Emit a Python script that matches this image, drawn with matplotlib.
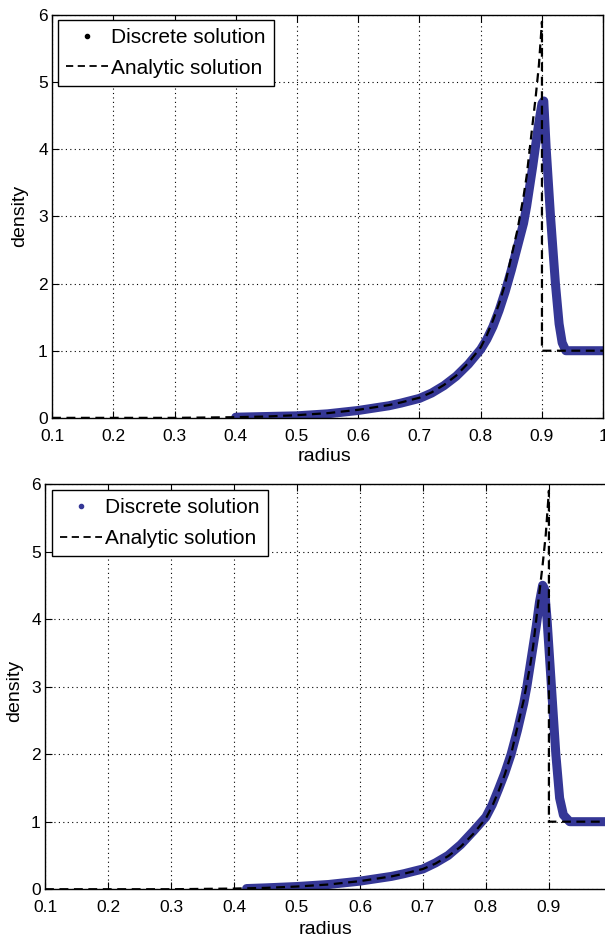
import numpy as np
import matplotlib.pyplot as plt
from matplotlib.lines import Line2D

# analytic solution (same for both runs)
r_exact = [0.1, 0.2, 0.3, 0.4, 0.45, 0.5, 0.55, 0.6, 0.65, 0.67, 0.7, 0.72, 0.74,
           0.76, 0.78, 0.8, 0.81, 0.82, 0.83, 0.84, 0.85, 0.86, 0.865, 0.87, 0.875,
           0.88, 0.885, 0.89, 0.895, 0.9, 0.9, 1.0]
rho_exact = [0.0, 0.0, 0.0, 0.01, 0.02, 0.04, 0.07, 0.12, 0.19, 0.23, 0.3, 0.38, 0.49,
             0.63, 0.82, 1.05, 1.23, 1.45, 1.7, 2.0, 2.4, 2.8, 3.05, 3.3, 3.6,
             4.0, 4.4, 4.8, 5.25, 5.9, 1.0, 1.0]

# discrete solution, upper panel
r_top = [0.4, 0.45, 0.5, 0.55, 0.6, 0.65, 0.67, 0.7, 0.72, 0.74, 0.76, 0.78, 0.8,
         0.81, 0.82, 0.83, 0.84, 0.85, 0.86, 0.87, 0.875, 0.88, 0.885, 0.89,
         0.895, 0.9, 0.903, 0.907, 0.914, 0.922, 0.928, 0.933, 0.939, 0.95, 1.0]
rho_top = [0.01, 0.02, 0.03, 0.06, 0.11, 0.18, 0.22, 0.29, 0.37, 0.48, 0.62, 0.8, 1.02,
           1.17, 1.36, 1.6, 1.88, 2.2, 2.55, 2.9, 3.15, 3.45, 3.75, 4.08,
           4.4, 4.68, 4.72, 4.0, 3.0, 2.0, 1.4, 1.12, 1.0, 1.0, 1.0]

# discrete solution, lower panel
r_bot = [0.42, 0.45, 0.5, 0.55, 0.6, 0.65, 0.67, 0.7, 0.72, 0.74, 0.76, 0.78, 0.8,
         0.81, 0.82, 0.83, 0.84, 0.85, 0.86, 0.865, 0.87, 0.875, 0.88, 0.885,
         0.89, 0.893, 0.897, 0.904, 0.911, 0.917, 0.923, 0.933, 0.95, 1.0]
rho_bot = [0.01, 0.02, 0.04, 0.07, 0.12, 0.19, 0.23, 0.3, 0.39, 0.5, 0.66, 0.86, 1.07,
           1.25, 1.48, 1.72, 2.0, 2.35, 2.75, 3.0, 3.3, 3.6, 3.9, 4.25,
           4.5, 4.45, 4.0, 3.0, 2.0, 1.35, 1.1, 1.0, 1.0, 1.0]

xticks = [0.1, 0.2, 0.3, 0.4, 0.5, 0.6, 0.7, 0.8, 0.9, 1.0]
xlabels_top = ['0.1', '0.2', '0.3', '0.4', '0.5', '0.6', '0.7', '0.8', '0.9', '1']
xlabels_bot = ['0.1', '0.2', '0.3', '0.4', '0.5', '0.6', '0.7', '0.8', '0.9', '']
yticks = [0, 1, 2, 3, 4, 5, 6]

BLUE = '#353796'
plt.rcParams['font.family'] = ['Liberation Sans', 'DejaVu Sans']

fig = plt.figure(figsize=(6.05, 9.39), dpi=100)
ax1 = fig.add_axes([0.086, 0.555, 0.911, 0.429])
ax2 = fig.add_axes([0.0744, 0.0530, 0.937, 0.4316])

panels = [(ax1, r_top, rho_top, xlabels_top, 'k', (0.011, 0.988), (-0.058, 0.502), (0.495, -0.097)),
          (ax2, r_bot, rho_bot, xlabels_bot, BLUE, (0.012, 0.985), (-0.053, 0.49), (0.494, -0.0985))]

for ax, r_d, rho_d, xlabs, legcol, legpos, ylpos, xlpos in panels:
    ax.plot(r_d, rho_d, color=BLUE, lw=6.5, solid_capstyle='round',
            solid_joinstyle='round', zorder=2)
    ax.plot(r_exact, rho_exact, color='k', ls=(0, (4, 2.5)), lw=1.6, zorder=3)
    ax.set_xlim(0.1, 1.0)
    ax.set_ylim(0, 6)
    ax.set_xticks(xticks)
    ax.set_xticklabels(xlabs)
    ax.set_yticks(yticks)
    ax.grid(True, color='k', ls=(0, (1, 3)), lw=0.8)
    ax.tick_params(direction='in', top=True, right=True, length=5, width=0.8,
                   labelsize=12.5)
    ax.tick_params(axis='x', pad=8)
    ax.tick_params(axis='y', pad=3)
    for s in ax.spines.values():
        s.set_linewidth(1.0)
    ax.set_xlabel('radius', fontsize=14)
    ax.set_ylabel('density', fontsize=14)
    ax.xaxis.label.set_va('center')
    ax.yaxis.label.set_va('center')
    ax.xaxis.set_label_coords(*xlpos)
    ax.yaxis.set_label_coords(*ylpos)

    handles = [Line2D([], [], ls='none', marker='.', ms=6, color=legcol),
               Line2D([], [], color='k', ls=(0, (4, 2.5)), lw=1.3)]
    leg = ax.legend(handles, ['Discrete solution', 'Analytic solution'],
                    loc='upper left', bbox_to_anchor=legpos, borderaxespad=0,
                    fontsize=15, fancybox=False, framealpha=1, edgecolor='k',
                    handlelength=2.0, handletextpad=0.15, labelspacing=0.55,
                    borderpad=0.4)
    leg.get_frame().set_linewidth(1.0)
    leg.set_zorder(5)

fig.savefig('out.png', dpi=100)
